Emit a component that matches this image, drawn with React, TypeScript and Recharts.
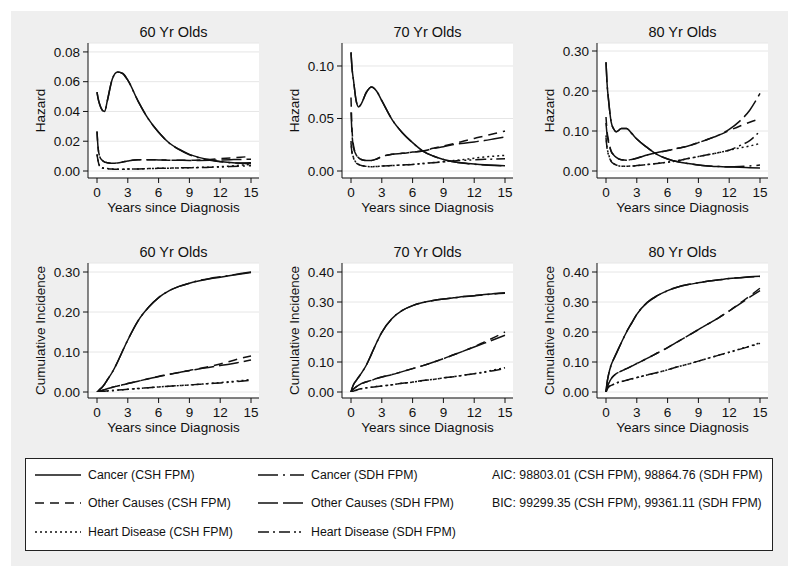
import { LineChart, Line, XAxis, YAxis, CartesianGrid } from "recharts";

const years = [0, 0.1, 0.25, 0.5, 0.75, 1, 1.5, 2, 2.5, 3, 4, 5, 6, 7, 8, 9, 10, 11, 12, 13, 14, 15];
const xTicks = [0, 3, 6, 9, 12, 15];

// hazard, 60 yr olds
const haz60CancerCsh = [0.053, 0.049, 0.045, 0.041, 0.04, 0.047, 0.062, 0.0665, 0.0655, 0.061, 0.047, 0.035, 0.026, 0.019, 0.0146, 0.0112, 0.009, 0.0075, 0.0064, 0.0057, 0.0052, 0.0049];
const haz60CancerSdh = [0.053, 0.049, 0.045, 0.041, 0.04, 0.047, 0.062, 0.0665, 0.0655, 0.061, 0.047, 0.035, 0.026, 0.019, 0.0143, 0.0109, 0.0087, 0.0072, 0.0062, 0.0056, 0.0054, 0.0055];
const haz60OtherCsh = [0.0265, 0.016, 0.01, 0.0072, 0.006, 0.0056, 0.0052, 0.0054, 0.006, 0.0067, 0.0076, 0.0076, 0.0074, 0.0073, 0.0072, 0.0072, 0.0074, 0.0078, 0.0083, 0.0088, 0.0093, 0.0097];
const haz60OtherSdh = [0.0265, 0.016, 0.01, 0.0072, 0.006, 0.0056, 0.0052, 0.0054, 0.006, 0.0067, 0.0076, 0.0076, 0.0074, 0.0073, 0.0072, 0.0071, 0.0071, 0.0072, 0.0074, 0.0076, 0.0078, 0.0079];
const haz60HeartCsh = [0.0112, 0.007, 0.0034, 0.0022, 0.0018, 0.0016, 0.0013, 0.0011, 0.0012, 0.0013, 0.0014, 0.0016, 0.0018, 0.0019, 0.0021, 0.0022, 0.0024, 0.0026, 0.0029, 0.0033, 0.0039, 0.0045];
const haz60HeartSdh = [0.0112, 0.007, 0.0034, 0.0022, 0.0018, 0.0016, 0.0013, 0.0011, 0.0012, 0.0013, 0.0014, 0.0016, 0.0018, 0.0019, 0.0021, 0.0022, 0.0023, 0.0025, 0.0027, 0.003, 0.0033, 0.0036];

// hazard, 70 yr olds
const haz70CancerCsh = [0.113, 0.098, 0.086, 0.067, 0.061, 0.064, 0.075, 0.08, 0.076, 0.067, 0.049, 0.0365, 0.027, 0.019, 0.0143, 0.011, 0.0089, 0.0076, 0.0067, 0.006, 0.0055, 0.0051];
const haz70CancerSdh = [0.113, 0.098, 0.086, 0.067, 0.061, 0.064, 0.075, 0.08, 0.076, 0.067, 0.049, 0.0365, 0.027, 0.019, 0.0143, 0.011, 0.0087, 0.0073, 0.0064, 0.0057, 0.0052, 0.0048];
const haz70OtherCsh = [0.07, 0.04, 0.024, 0.016, 0.0125, 0.011, 0.01, 0.01, 0.0115, 0.0137, 0.016, 0.0168, 0.018, 0.019, 0.0216, 0.0237, 0.026, 0.0285, 0.031, 0.0333, 0.0357, 0.038];
const haz70OtherSdh = [0.056, 0.035, 0.022, 0.0155, 0.0122, 0.011, 0.01, 0.01, 0.0115, 0.0137, 0.016, 0.0168, 0.018, 0.019, 0.0214, 0.0232, 0.0252, 0.0265, 0.0277, 0.029, 0.0307, 0.0324];
const haz70HeartCsh = [0.0286, 0.018, 0.0127, 0.008, 0.0063, 0.0054, 0.0044, 0.0041, 0.0043, 0.0048, 0.0052, 0.0058, 0.0063, 0.0071, 0.008, 0.0089, 0.0099, 0.011, 0.0122, 0.0133, 0.0142, 0.0149];
const haz70HeartSdh = [0.0267, 0.017, 0.0122, 0.0078, 0.0062, 0.0053, 0.0044, 0.0041, 0.0043, 0.0048, 0.0052, 0.0058, 0.0063, 0.0071, 0.0079, 0.0087, 0.0095, 0.0101, 0.0107, 0.0111, 0.0114, 0.0117];

// hazard, 80 yr olds
const haz80CancerCsh = [0.272, 0.22, 0.177, 0.123, 0.105, 0.098, 0.106, 0.106, 0.094, 0.08, 0.059, 0.041, 0.03, 0.023, 0.0186, 0.015, 0.0127, 0.011, 0.01, 0.0092, 0.0084, 0.0076];
const haz80CancerSdh = [0.272, 0.22, 0.177, 0.123, 0.105, 0.098, 0.106, 0.106, 0.094, 0.08, 0.059, 0.041, 0.03, 0.023, 0.0186, 0.015, 0.0127, 0.011, 0.0104, 0.011, 0.0125, 0.015];
const haz80OtherCsh = [0.135, 0.1, 0.076, 0.05, 0.04, 0.034, 0.028, 0.027, 0.029, 0.032, 0.04, 0.0465, 0.051, 0.057, 0.0625, 0.071, 0.08, 0.09, 0.101, 0.112, 0.122, 0.131];
const haz80OtherSdh = [0.12, 0.092, 0.072, 0.049, 0.04, 0.034, 0.028, 0.027, 0.029, 0.032, 0.04, 0.0465, 0.051, 0.057, 0.0625, 0.071, 0.08, 0.09, 0.104, 0.124, 0.152, 0.194];
const haz80HeartCsh = [0.089, 0.06, 0.042, 0.025, 0.019, 0.015, 0.012, 0.012, 0.0125, 0.0135, 0.016, 0.019, 0.022, 0.026, 0.031, 0.036, 0.041, 0.046, 0.052, 0.0575, 0.0625, 0.069];
const haz80HeartSdh = [0.083, 0.057, 0.04, 0.024, 0.018, 0.015, 0.012, 0.012, 0.0125, 0.0135, 0.016, 0.019, 0.022, 0.026, 0.031, 0.036, 0.041, 0.046, 0.052, 0.063, 0.076, 0.0998];

// cumulative incidence, 60 yr olds
const cum60CancerCsh = [0, 0.002, 0.006, 0.012, 0.02, 0.03, 0.05, 0.075, 0.103, 0.13, 0.178, 0.211, 0.236, 0.253, 0.264, 0.272, 0.278, 0.283, 0.287, 0.291, 0.295, 0.299];
const cum60CancerSdh = [0, 0.002, 0.006, 0.012, 0.02, 0.03, 0.05, 0.075, 0.103, 0.13, 0.178, 0.211, 0.236, 0.253, 0.264, 0.272, 0.279, 0.284, 0.288, 0.292, 0.296, 0.3];
const cum60OtherCsh = [0, 0.001, 0.002, 0.004, 0.006, 0.008, 0.012, 0.015, 0.018, 0.021, 0.027, 0.033, 0.039, 0.044, 0.049, 0.054, 0.059, 0.064, 0.07, 0.077, 0.084, 0.09];
const cum60OtherSdh = [0, 0.001, 0.002, 0.004, 0.006, 0.008, 0.012, 0.015, 0.018, 0.021, 0.027, 0.033, 0.039, 0.044, 0.049, 0.053, 0.058, 0.062, 0.066, 0.07, 0.075, 0.08];
const cum60HeartCsh = [0, 0.0003, 0.0008, 0.0014, 0.002, 0.0025, 0.0035, 0.0047, 0.0057, 0.0067, 0.0087, 0.0107, 0.0126, 0.0143, 0.016, 0.0176, 0.0195, 0.0215, 0.0235, 0.0258, 0.0283, 0.031];
const cum60HeartSdh = [0, 0.0003, 0.0008, 0.0014, 0.002, 0.0025, 0.0035, 0.0047, 0.0057, 0.0067, 0.0087, 0.0107, 0.0126, 0.0143, 0.016, 0.0176, 0.0193, 0.021, 0.0228, 0.0248, 0.0268, 0.029];

// cumulative incidence, 70 yr olds
const cum70CancerCsh = [0, 0.012, 0.025, 0.038, 0.05, 0.062, 0.09, 0.127, 0.165, 0.199, 0.245, 0.272, 0.288, 0.298, 0.305, 0.31, 0.314, 0.318, 0.321, 0.325, 0.328, 0.331];
const cum70CancerSdh = [0, 0.012, 0.025, 0.038, 0.05, 0.062, 0.09, 0.127, 0.165, 0.199, 0.245, 0.272, 0.288, 0.298, 0.305, 0.31, 0.314, 0.318, 0.321, 0.324, 0.327, 0.329];
const cum70OtherCsh = [0, 0.005, 0.01, 0.017, 0.023, 0.028, 0.034, 0.039, 0.045, 0.05, 0.058, 0.068, 0.078, 0.088, 0.099, 0.111, 0.124, 0.137, 0.151, 0.167, 0.183, 0.2];
const cum70OtherSdh = [0, 0.005, 0.01, 0.017, 0.023, 0.028, 0.034, 0.039, 0.045, 0.05, 0.058, 0.068, 0.078, 0.088, 0.099, 0.111, 0.124, 0.137, 0.15, 0.163, 0.176, 0.189];
const cum70HeartCsh = [0, 0.001, 0.003, 0.006, 0.009, 0.011, 0.014, 0.016, 0.018, 0.02, 0.024, 0.029, 0.033, 0.038, 0.042, 0.047, 0.051, 0.056, 0.061, 0.067, 0.074, 0.081];
const cum70HeartSdh = [0, 0.001, 0.003, 0.006, 0.009, 0.011, 0.014, 0.016, 0.018, 0.02, 0.024, 0.029, 0.033, 0.038, 0.042, 0.047, 0.051, 0.056, 0.061, 0.066, 0.072, 0.078];

// cumulative incidence, 80 yr olds
const cum80CancerCsh = [0, 0.03, 0.058, 0.09, 0.11, 0.128, 0.165, 0.2, 0.23, 0.259, 0.298, 0.321, 0.338, 0.35, 0.358, 0.364, 0.37, 0.374, 0.378, 0.381, 0.384, 0.386];
const cum80CancerSdh = [0, 0.03, 0.058, 0.09, 0.11, 0.128, 0.165, 0.2, 0.23, 0.259, 0.298, 0.321, 0.338, 0.35, 0.358, 0.364, 0.37, 0.374, 0.378, 0.381, 0.383, 0.385];
const cum80OtherCsh = [0, 0.015, 0.028, 0.044, 0.054, 0.061, 0.07, 0.078, 0.086, 0.095, 0.112, 0.13, 0.148, 0.168, 0.188, 0.208, 0.228, 0.248, 0.27, 0.295, 0.32, 0.346];
const cum80OtherSdh = [0, 0.015, 0.028, 0.044, 0.054, 0.061, 0.07, 0.078, 0.086, 0.095, 0.112, 0.13, 0.148, 0.168, 0.188, 0.208, 0.228, 0.248, 0.27, 0.293, 0.316, 0.338];
const cum80HeartCsh = [0, 0.008, 0.017, 0.022, 0.026, 0.03, 0.035, 0.039, 0.044, 0.048, 0.057, 0.065, 0.074, 0.084, 0.093, 0.103, 0.113, 0.123, 0.133, 0.143, 0.153, 0.164];
const cum80HeartSdh = [0, 0.008, 0.017, 0.022, 0.026, 0.03, 0.035, 0.039, 0.044, 0.048, 0.057, 0.065, 0.074, 0.084, 0.093, 0.103, 0.113, 0.123, 0.132, 0.142, 0.152, 0.162];

const hazTicks60 = [0, 0.02, 0.04, 0.06, 0.08];
const hazTicks70 = [0, 0.05, 0.1];
const hazTicks80 = [0, 0.1, 0.2, 0.3];
const cumTicks60 = [0, 0.1, 0.2, 0.3];
const cumTicks70 = [0, 0.1, 0.2, 0.3, 0.4];

const legendLabels = [
  "Cancer (CSH FPM)",
  "Other Causes (CSH FPM)",
  "Heart Disease (CSH FPM)",
  "Cancer (SDH FPM)",
  "Other Causes (SDH FPM)",
  "Heart Disease (SDH FPM)",
];
const fitStats = [
  "AIC: 98803.01 (CSH FPM), 98864.76 (SDH FPM)",
  "BIC: 99299.35 (CSH FPM), 99361.11 (SDH FPM)",
];

const FONT = '"Liberation Sans", Arial, sans-serif';
const INK = "#111";

const seriesStyle = [
  { key: "cancerCsh", dash: undefined },
  { key: "otherCsh", dash: "9 6" },
  { key: "heartCsh", dash: "2 3" },
  { key: "cancerSdh", dash: "20 5 2 5" },
  { key: "otherSdh", dash: "20 5" },
  { key: "heartSdh", dash: "11 4 2 4 11 4 2 3 2 4" },
];

function rows(s: number[][]) {
  return years.map((t, i) => ({
    t,
    cancerCsh: s[0][i],
    otherCsh: s[1][i],
    heartCsh: s[2][i],
    cancerSdh: s[3][i],
    otherSdh: s[4][i],
    heartSdh: s[5][i],
  }));
}

const PW = 171;
const PH = 135;
const YW = 62;
const MT = 28;

function Panel({ left, top, title, yLabel, data, yMax, yTicks, padBottom }: any) {
  const tick = { fill: INK, fontSize: 13.5, fontFamily: FONT };
  return (
    <div style={{ position: "absolute", left: left - YW, top: top - MT, width: YW + PW + 10, height: MT + PH + 42 }}>
      <div
        style={{
          position: "absolute",
          left: YW,
          width: PW,
          top: 7,
          lineHeight: "20px",
          textAlign: "center",
          fontSize: 14.5,
          fontFamily: FONT,
          color: INK,
        }}
      >
        {title}
      </div>
      <LineChart width={YW + PW + 10} height={MT + PH + 42} data={data} margin={{ top: MT, right: 10, bottom: 0, left: 0 }}>
        <CartesianGrid vertical={false} fill="#fff" stroke="#e6e6e6" />
        <XAxis
          dataKey="t"
          type="number"
          domain={[0, 15]}
          ticks={xTicks}
          padding={{ left: 9, right: 8 }}
          height={42}
          tick={tick}
          tickSize={5}
          tickMargin={4}
          axisLine={{ stroke: INK }}
          tickLine={{ stroke: INK }}
          label={{ value: "Years since Diagnosis", position: "insideBottom", offset: 8, fill: INK, fontSize: 13.5, fontFamily: FONT }}
        />
        <YAxis
          type="number"
          domain={[0, yMax]}
          ticks={yTicks}
          padding={{ top: 0, bottom: padBottom }}
          width={YW}
          tick={tick}
          tickSize={5}
          tickMargin={3}
          tickFormatter={(v: number) => v.toFixed(2)}
          axisLine={{ stroke: INK }}
          tickLine={{ stroke: INK }}
          allowDataOverflow
          label={{
            value: yLabel,
            angle: -90,
            position: "insideLeft",
            offset: 14,
            fill: INK,
            fontSize: 13.5,
            fontFamily: FONT,
            style: { textAnchor: "middle" },
          }}
        />
        {seriesStyle.map((s) => (
          <Line
            key={s.key}
            dataKey={s.key}
            type="monotone"
            stroke={INK}
            strokeWidth={1.5}
            strokeDasharray={s.dash}
            dot={false}
            activeDot={false}
            isAnimationActive={false}
          />
        ))}
      </LineChart>
    </div>
  );
}

function Legend() {
  const rowY = [16, 44, 73];
  return (
    <div
      style={{
        position: "absolute",
        left: 25,
        top: 458,
        width: 748,
        height: 93,
        border: "1px solid #222",
        background: "#fff",
        boxSizing: "border-box",
      }}
    >
      <svg width={746} height={91} style={{ display: "block" }}>
        {seriesStyle.map((s, i) => {
          const col = i < 3 ? 0 : 1;
          const y = rowY[i % 3];
          const x0 = col === 0 ? 9 : 232;
          return (
            <g key={s.key}>
              <line x1={x0} x2={x0 + 46} y1={y} y2={y} stroke={INK} strokeWidth={1.5} strokeDasharray={s.dash} />
              <text x={x0 + 53} y={y} dy="0.35em" fontSize={12.3} fontFamily={FONT} fill={INK}>
                {legendLabels[i]}
              </text>
            </g>
          );
        })}
        {fitStats.map((f, i) => (
          <text key={f} x={466} y={rowY[i]} dy="0.35em" fontSize={12.3} fontFamily={FONT} fill={INK}>
            {f}
          </text>
        ))}
      </svg>
    </div>
  );
}

export default function App() {
  return (
    <div style={{ position: "absolute", left: 0, top: 0, width: 800, height: 577, background: "#fff", overflow: "hidden" }}>
      <div style={{ position: "absolute", left: 11, top: 11, width: 777, height: 555, background: "#efefef" }} />
      <Panel left={88} top={43} title="60 Yr Olds" yLabel="Hazard" yMax={0.086} yTicks={hazTicks60} padBottom={7}
        data={rows([haz60CancerCsh, haz60OtherCsh, haz60HeartCsh, haz60CancerSdh, haz60OtherSdh, haz60HeartSdh])} />
      <Panel left={342} top={43} title="70 Yr Olds" yLabel="Hazard" yMax={0.1219} yTicks={hazTicks70} padBottom={7}
        data={rows([haz70CancerCsh, haz70OtherCsh, haz70HeartCsh, haz70CancerSdh, haz70OtherSdh, haz70HeartSdh])} />
      <Panel left={597} top={43} title="80 Yr Olds" yLabel="Hazard" yMax={0.32} yTicks={hazTicks80} padBottom={7}
        data={rows([haz80CancerCsh, haz80OtherCsh, haz80HeartCsh, haz80CancerSdh, haz80OtherSdh, haz80HeartSdh])} />
      <Panel left={88} top={263} title="60 Yr Olds" yLabel="Cumulative Incidence" yMax={0.3225} yTicks={cumTicks60} padBottom={6}
        data={rows([cum60CancerCsh, cum60OtherCsh, cum60HeartCsh, cum60CancerSdh, cum60OtherSdh, cum60HeartSdh])} />
      <Panel left={342} top={263} title="70 Yr Olds" yLabel="Cumulative Incidence" yMax={0.43} yTicks={cumTicks70} padBottom={6}
        data={rows([cum70CancerCsh, cum70OtherCsh, cum70HeartCsh, cum70CancerSdh, cum70OtherSdh, cum70HeartSdh])} />
      <Panel left={597} top={263} title="80 Yr Olds" yLabel="Cumulative Incidence" yMax={0.43} yTicks={cumTicks70} padBottom={6}
        data={rows([cum80CancerCsh, cum80OtherCsh, cum80HeartCsh, cum80CancerSdh, cum80OtherSdh, cum80HeartSdh])} />
      <Legend />
    </div>
  );
}
